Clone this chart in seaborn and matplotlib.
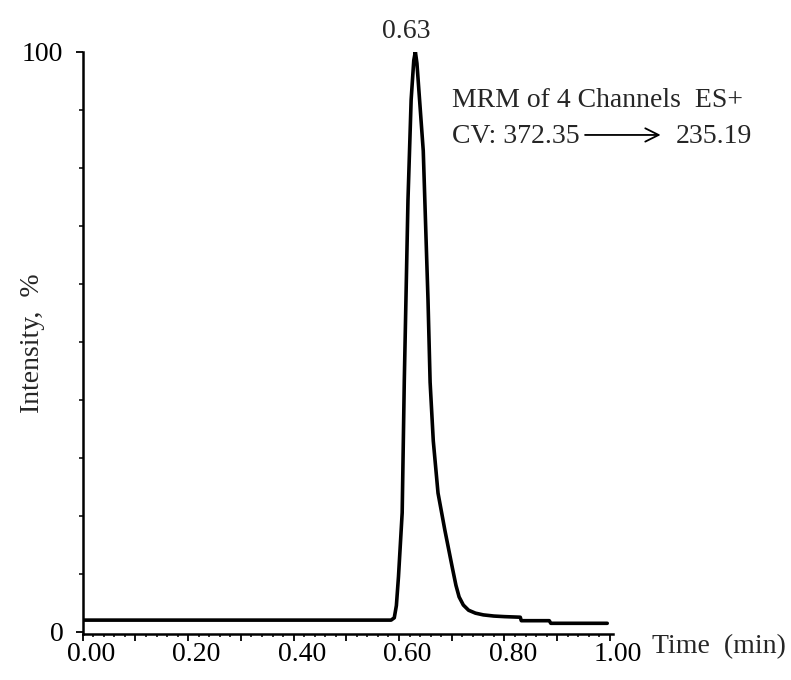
import numpy as np
import pandas as pd
import matplotlib
matplotlib.use("Agg")
import matplotlib.pyplot as plt
import matplotlib.transforms as mtransforms
from matplotlib.ticker import MultipleLocator, FixedLocator
import seaborn as sns

# chromatogram trace (time in min, intensity in %)
time = [0.00, 0.10, 0.20, 0.30, 0.40, 0.50, 0.585, 0.591, 0.595, 0.599, 0.606,
        0.610, 0.617, 0.623, 0.628, 0.631, 0.634, 0.646, 0.655, 0.659, 0.665,
        0.674, 0.687, 0.701, 0.708, 0.714, 0.722, 0.732, 0.745, 0.760, 0.780,
        0.80, 0.830, 0.832, 0.885, 0.888, 0.995]
intensity = [2.0, 2.0, 2.0, 2.0, 2.0, 2.0, 2.0, 2.4, 4.5, 9.5, 20.5,
             43.2, 74.4, 91.7, 98.5, 100.0, 98.0, 82.9, 57.2, 43.0, 32.9,
             23.9, 17.5, 11.1, 8.0, 6.0, 4.6, 3.7, 3.2, 2.9, 2.7,
             2.6, 2.5, 1.9, 1.9, 1.45, 1.45]
peak_time = 0.63
peak_label = "0.63"
title_line1 = "MRM of 4 Channels  ES+"
precursor = "CV: 372.35"
product = "235.19"
yticks_labeled = [0, 100]

df = pd.DataFrame({"time": time, "intensity": intensity})

sns.set_style("ticks")
plt.rcParams["font.family"] = ["Liberation Serif", "DejaVu Serif"]
plt.rcParams["font.size"] = 20

fig = plt.figure(figsize=(7.91, 6.8), dpi=100)
ax = fig.add_axes([0.1046, 0.0676, 0.6704, 0.8564])

sns.lineplot(data=df, x="time", y="intensity", color="black", linewidth=2.6,
             ax=ax, sort=False)

ax.set_xlim(0, 1.006)
ax.set_ylim(-0.4, 100)
sns.despine(ax=ax)
for s in ["left", "bottom"]:
    ax.spines[s].set_linewidth(1.8)
    ax.spines[s].set_color("black")

# x ticks: labels every 0.2, medium ticks every 0.1, small every 0.02
ax.xaxis.set_major_locator(MultipleLocator(0.1))
ax.xaxis.set_minor_locator(MultipleLocator(0.02))
ax.set_xticklabels([f"{v:.2f}" if round(v * 10) % 2 == 0 else ""
                    for v in ax.get_xticks()])
ax.tick_params(axis="x", which="major", direction="out", length=5, width=1.3,
               pad=1, labelsize=20, colors="black")
ax.tick_params(axis="x", which="minor", direction="out", length=2.5, width=1.1,
               colors="black")
offset = mtransforms.ScaledTranslation(6 / 72, 0, fig.dpi_scale_trans)
for lab in ax.get_xticklabels():
    lab.set_transform(lab.get_transform() + offset)

ax.yaxis.set_major_locator(FixedLocator(yticks_labeled))
ax.yaxis.set_minor_locator(MultipleLocator(10))
ax.set_yticklabels([str(v) for v in yticks_labeled])
ax.tick_params(axis="y", which="major", direction="out", length=5, width=1.3,
               pad=9, labelsize=20, colors="black")
ax.tick_params(axis="y", which="minor", direction="out", length=3, width=1.1,
               colors="black")

ax.set_xlabel("")
ax.set_ylabel("Intensity,  %", fontsize=20)
ax.yaxis.set_label_coords(-0.071, 0.5)

ax.text(1.074, -0.033, "Time  (min)", transform=ax.transAxes, fontsize=20,
        ha="left", va="baseline", clip_on=False)

ax.annotate(peak_label, xy=(peak_time, 100), xytext=(-6, 10),
            textcoords="offset points", ha="center", va="baseline", fontsize=20)

ax.text(0.696, 0.905, title_line1, transform=ax.transAxes, fontsize=20,
        ha="left", va="baseline")
ax.text(0.696, 0.843, precursor, transform=ax.transAxes, fontsize=20,
        ha="left", va="baseline")
ax.annotate("", xy=(1.095, 0.857), xytext=(0.942, 0.857),
            xycoords="axes fraction", textcoords="axes fraction",
            arrowprops=dict(arrowstyle="->", color="black", lw=1.3,
                            mutation_scale=24))
ax.text(1.118, 0.843, product, transform=ax.transAxes, fontsize=20,
        ha="left", va="baseline", clip_on=False)

fig.savefig("out.png", dpi=100)
